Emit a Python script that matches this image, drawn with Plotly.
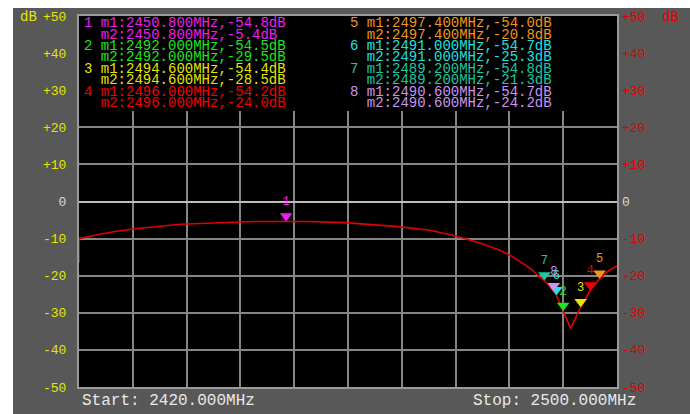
import plotly.graph_objects as go

# ---- data ----
start_mhz = 2420.0
stop_mhz = 2500.0
x_step = 8.0
y_min, y_max, y_step = -50, 50, 10

trace_freq = [2420.0, 2420.0, 2423.1, 2426.0, 2429.1, 2432.0, 2435.0, 2438.0, 2441.0, 2446.0,
              2450.8, 2454.0, 2459.5, 2463.0, 2467.0, 2472.0, 2476.0, 2479.5, 2482.5, 2484.0,
              2485.5, 2487.0, 2488.0, 2489.2, 2490.6, 2491.0, 2492.0, 2493.1, 2494.6, 2496.0,
              2497.4, 2498.5, 2500.0]
trace_db = [-16.5, -10.0, -8.85, -7.9, -7.2, -6.7, -6.15, -5.95, -5.7, -5.4,
            -5.4, -5.4, -5.7, -6.1, -6.7, -7.7, -9.3, -11.1, -13.1, -14.4,
            -16.1, -17.9, -19.5, -21.3, -24.2, -25.3, -29.5, -34.2, -28.5, -24.0,
            -20.8, -19.0, -17.3]

marker_ids = [1, 2, 3, 4, 5, 6, 7, 8]
marker_freq = [2450.8, 2492.0, 2494.6, 2496.0, 2497.4, 2491.0, 2489.2, 2490.6]
marker_m1 = [-54.8, -54.5, -54.4, -54.2, -54.0, -54.7, -54.8, -54.7]
marker_m2 = [-5.4, -29.5, -28.5, -24.0, -20.8, -25.3, -21.3, -24.2]
marker_colors = ["#f01ef0", "#1ee61e", "#e6e600", "#f00000", "#f0961e", "#1ee1e1", "#1ec8a0", "#c896f0"]

y_ticks = list(range(y_min, y_max + 1, y_step))
tick_text = [("+%d" % v if v > 0 else ("%d" % v if v < 0 else "<span style='color:#d8d8d8'>0</span>"))
             for v in y_ticks]

# ---- geometry (pixels) ----
W, H = 690, 414
ml, mr, mt, mb = 79, 73, 16, 27
pw, ph = W - ml - mr, H - mt - mb

def px_x(p):
    return (p - ml) / pw

def px_y(p):
    return (H - mb - p) / ph

mono = "Liberation Mono"
bg = "#585858"
red = "#e00000"
yellow = "#e6e600"
db_per_px = (y_max - y_min) / ph

fig = go.Figure()

fig.add_trace(go.Scatter(x=trace_freq, y=trace_db, mode="lines",
                         line=dict(color=red, width=1.6), hoverinfo="skip", showlegend=False))

# markers (inverted triangles whose tip rests on the curve)
msize = 11
for i, mid in enumerate(marker_ids):
    fig.add_trace(go.Scatter(
        x=[marker_freq[i]], y=[marker_m2[i] + (msize / 2) * db_per_px],
        mode="markers+text", text=[str(mid)], textposition="top center",
        textfont=dict(family=mono, size=12, color=marker_colors[i]),
        marker=dict(symbol="triangle-down", size=msize, color=marker_colors[i], line=dict(width=0)),
        hoverinfo="skip", showlegend=False))

# invisible trace for right axis
fig.add_trace(go.Scatter(x=[start_mhz], y=[0], yaxis="y2", mode="markers",
                         marker=dict(opacity=0), hoverinfo="skip", showlegend=False))

annotations = []
row0, pair_pitch, row_pitch = 23.5, 22.7, 11.0
col_x = [82, 348]
lfs = 14
for i, mid in enumerate(marker_ids):
    col = i // 4
    k = i % 4
    y1 = row0 + k * pair_pitch
    y2 = y1 + row_pitch
    c = marker_colors[i]
    annotations.append(dict(x=px_x(col_x[col]), y=px_y(y1), xref="paper", yref="paper",
                            text="%d m1:%.3fMHz,%.1fdB" % (mid, marker_freq[i], marker_m1[i]),
                            showarrow=False, xanchor="left", yanchor="middle",
                            font=dict(family=mono, size=lfs, color=c)))
    annotations.append(dict(x=px_x(col_x[col]), y=px_y(y2), xref="paper", yref="paper",
                            text="&nbsp;&nbsp;m2:%.3fMHz,%.1fdB" % (marker_freq[i], marker_m2[i]),
                            showarrow=False, xanchor="left", yanchor="middle",
                            font=dict(family=mono, size=lfs, color=c)))

annotations.append(dict(x=px_x(18), y=px_y(17), xref="paper", yref="paper", text="dB", showarrow=False,
                        xanchor="left", yanchor="middle", font=dict(family=mono, size=14, color=yellow)))
annotations.append(dict(x=px_x(660), y=px_y(17), xref="paper", yref="paper", text="dB", showarrow=False,
                        xanchor="left", yanchor="middle", font=dict(family=mono, size=14, color=red)))
annotations.append(dict(x=px_x(80), y=px_y(401), xref="paper", yref="paper",
                        text="Start: %.3fMHz" % start_mhz, showarrow=False,
                        xanchor="left", yanchor="middle", font=dict(family=mono, size=16, color="#e8e8e8")))
annotations.append(dict(x=px_x(471), y=px_y(401), xref="paper", yref="paper",
                        text="Stop: %.3fMHz" % stop_mhz, showarrow=False,
                        xanchor="left", yanchor="middle", font=dict(family=mono, size=16, color="#e8e8e8")))

table_bottom_db = y_max - (111 - mt) * db_per_px

shapes = [
    # white strips outside the instrument screen
    dict(type="rect", xref="paper", yref="paper", x0=px_x(0), x1=px_x(W), y0=px_y(8), y1=px_y(0),
         fillcolor="white", line=dict(width=0), layer="below"),
    dict(type="rect", xref="paper", yref="paper", x0=px_x(0), x1=px_x(13), y0=px_y(H), y1=px_y(0),
         fillcolor="white", line=dict(width=0), layer="below"),
    # black box behind the marker table (hides the grid there)
    dict(type="rect", xref="x", yref="y", x0=start_mhz, x1=stop_mhz, y0=table_bottom_db, y1=y_max,
         fillcolor="black", line=dict(width=0), layer="between"),
]

fig.update_layout(
    width=W, height=H,
    margin=dict(l=ml, r=mr, t=mt, b=mb, autoexpand=False),
    paper_bgcolor=bg, plot_bgcolor="black",
    showlegend=False,
    annotations=annotations, shapes=shapes,
    xaxis=dict(range=[start_mhz, stop_mhz], tick0=start_mhz, dtick=x_step, showticklabels=False,
               showgrid=True, gridcolor="#858585", gridwidth=2, zeroline=False,
               showline=True, linecolor="#9a9a9a", linewidth=2, mirror=True, ticks=""),
    yaxis=dict(range=[y_min, y_max], tickvals=y_ticks, ticktext=tick_text,
               tickfont=dict(family=mono, size=13, color=yellow), ticklabelstandoff=8,
               showgrid=True, gridcolor="#858585", gridwidth=2,
               zeroline=True, zerolinecolor="#bdbdbd", zerolinewidth=2,
               showline=True, linecolor="#9a9a9a", linewidth=2, mirror=True, ticks=""),
    yaxis2=dict(range=[y_min, y_max], overlaying="y", side="right", tickvals=y_ticks,
                ticktext=tick_text, tickfont=dict(family=mono, size=13, color=red),
                ticklabelstandoff=4, showgrid=False, zeroline=False, ticks=""),
)

fig.write_html("out.html", config={"displayModeBar": False},
               post_script="document.body.style.margin='0';document.body.style.overflow='hidden';")
